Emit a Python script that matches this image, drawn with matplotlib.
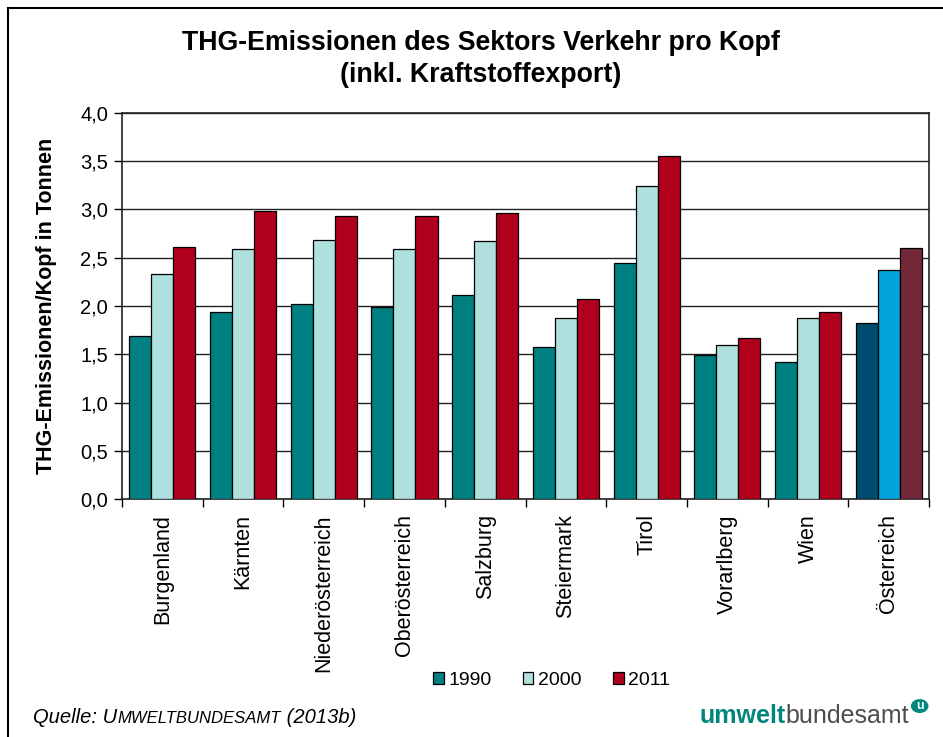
import numpy as np
import matplotlib
matplotlib.use("Agg")
import matplotlib.pyplot as plt
from matplotlib.lines import Line2D
from matplotlib.patches import Circle

plt.rcParams['font.family'] = ['Liberation Sans', 'DejaVu Sans']

regions = ["Burgenland", "Kärnten", "Niederösterreich", "Oberösterreich", "Salzburg",
           "Steiermark", "Tirol", "Vorarlberg", "Wien", "Österreich"]
years = ["1990", "2000", "2011"]
v1990 = [1.69, 1.94, 2.02, 1.99, 2.11, 1.58, 2.45, 1.49, 1.42, 1.82]
v2000 = [2.33, 2.59, 2.68, 2.59, 2.67, 1.88, 3.24, 1.60, 1.88, 2.37]
v2011 = [2.61, 2.98, 2.93, 2.93, 2.96, 2.07, 3.55, 1.67, 1.94, 2.60]

colors = ["#008080", "#B0E0DE", "#B0001E"]
colors_at = ["#004B6E", "#00A4DA", "#722838"]

fig = plt.figure(figsize=(9.43, 7.37), dpi=100)
ax = fig.add_axes([0.1294, 0.3229, 0.8558, 0.5238])

x = np.arange(len(regions))
w = 0.273
for k, vals in enumerate([v1990, v2000, v2011]):
    cols = [colors[k]] * (len(regions) - 1) + [colors_at[k]]
    ax.bar(x + (k - 1) * w, vals, w, color=cols, edgecolor="black", linewidth=0.9,
           label=years[k], zorder=3)

ax.set_xlim(-0.5, len(regions) - 0.5)
ax.set_ylim(0, 4.0)
ax.set_yticks(np.arange(0, 4.01, 0.5))
ax.set_yticklabels([f"{t:.1f}".replace(".", ",") for t in np.arange(0, 4.01, 0.5)], fontsize=14.5)
ax.yaxis.grid(True, color="#222222", linewidth=1.0, zorder=0)
ax.tick_params(axis="y", direction="out", length=6, width=1, pad=4)

ax.set_xticks(x)
ax.set_xticklabels(regions, rotation=90, fontsize=15.5, va="top")
ax.tick_params(axis="x", length=0, pad=11)
ax.set_xticks(np.arange(-0.5, len(regions)), minor=True)
ax.tick_params(axis="x", which="minor", direction="out", length=6, width=1)

for s in ax.spines.values():
    s.set_color("#222222")
    s.set_linewidth(1.2)

ax.set_ylabel("THG-Emissionen/Kopf in Tonnen", fontsize=15.5, fontweight="bold", labelpad=17)

fig.text(0.51, 0.9415, "THG-Emissionen des Sektors Verkehr pro Kopf", ha="center", va="center",
         fontsize=19.3, fontweight="bold")
fig.text(0.51, 0.8985, "(inkl. Kraftstoffexport)", ha="center", va="center",
         fontsize=19.3, fontweight="bold")

leg = fig.legend(loc="center", bbox_to_anchor=(0.585, 0.077), ncol=3, frameon=False,
                 fontsize=14, handlelength=0.55, handleheight=0.55, handletextpad=0.25,
                 columnspacing=1.6)

# figure frame (left and top only, as in the cropped original)
fig.add_artist(Line2D([0.0085, 0.0085], [0, 0.989], transform=fig.transFigure, color="black", lw=1.5))
fig.add_artist(Line2D([0.0085, 1.0], [0.989, 0.989], transform=fig.transFigure, color="black", lw=1.5))

# source line with small caps
fig.canvas.draw()
r = fig.canvas.get_renderer()
inv = fig.transFigure.inverted()
xpos = 0.035
ypos = 0.019
for txt, fs in [("Quelle: U", 14.5), ("MWELTBUNDESAMT", 12), (" (2013b)", 14.5)]:
    t = fig.text(xpos, ypos, txt, fontsize=fs, style="italic", ha="left", va="baseline")
    bb = t.get_window_extent(r)
    xpos = inv.transform((bb.x1, bb.y1))[0]

# logo
xpos = 0.742
t = fig.text(xpos, ypos, "umwelt", fontsize=18, fontweight="bold", color="#00857F",
             ha="left", va="baseline")
bb = t.get_window_extent(r)
xpos = inv.transform((bb.x1, bb.y1))[0]
t = fig.text(xpos, ypos, "bundesamt", fontsize=18, color="#4D4D4D", ha="left", va="baseline")
bb = t.get_window_extent(r)
xpos = inv.transform((bb.x1, bb.y1))[0]
fig.add_artist(Circle((xpos + 0.011, 0.042), 0.0085, transform=fig.transFigure,
                      color="#00857F"))
fig.text(xpos + 0.011, 0.042, "u", fontsize=9, fontweight="bold", color="white",
         ha="center", va="center")

fig.savefig("out.png", dpi=100)
